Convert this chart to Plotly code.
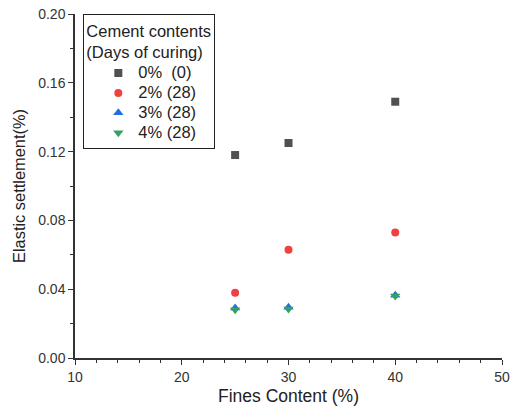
import plotly.graph_objects as go

fines = [25, 30, 40]
names = ["0%  (0)", "2% (28)", "3% (28)", "4% (28)"]
s0 = [0.118, 0.125, 0.149]
s2 = [0.038, 0.063, 0.073]
s3 = [0.029, 0.0295, 0.0365]
s4 = [0.028, 0.0285, 0.036]
series = [s0, s2, s3, s4]
colors = ["#505050", "#f04040", "#1f6ee8", "#36a064"]
symbols = ["square", "circle", "triangle-up", "triangle-down"]
sizes = [8, 8, 9, 9]

fig = go.Figure()
for n, s, c, sym, sz in zip(names, series, colors, symbols, sizes):
    fig.add_trace(go.Scatter(x=fines, y=s, mode="markers",
                             name="<span style='font-size:16.5px'>" + n + "</span>",
                             marker=dict(color=c, symbol=sym, size=sz, line=dict(width=0))))

def axis_common():
    return dict(showline=True, linecolor="#333", linewidth=1.5, ticks="outside",
                ticklen=5, tickcolor="#333", tickwidth=1.2, showgrid=False, zeroline=False,
                automargin=False,
                tickfont=dict(family="Arial, Liberation Sans", size=14, color="#333"))

fig.update_layout(
    width=511, height=411,
    margin=dict(l=75, r=9, t=14, b=53),
    plot_bgcolor="white", paper_bgcolor="white",
    font=dict(family="Arial, Liberation Sans", color="#222"),
    xaxis=dict(range=[10, 50], dtick=10,
               title=dict(text="Fines Content (%)", font=dict(size=17.5), standoff=6),
               minor=dict(ticks="outside", ticklen=3, tickcolor="#333", dtick=2),
               **axis_common()),
    yaxis=dict(range=[0, 0.2], dtick=0.04, tickformat=".2f",
               title=dict(text="Elastic settlement(%)", font=dict(size=16.4), standoff=8),
               minor=dict(ticks="outside", ticklen=3, tickcolor="#333", dtick=0.02),
               **axis_common()),
    legend=dict(x=0.019, y=1.0, xanchor="left", yanchor="top",
                bordercolor="#222", borderwidth=1.2, bgcolor="white",
                font=dict(size=13, color="#222"),
                title=dict(text="Cement contents<br>(Days of curing)", font=dict(size=16.5)),
                indentation=14, tracegroupgap=0, itemwidth=30),
)

fig.write_html("out.html", config={"displayModeBar": False},
               post_script="document.body.style.margin='0';document.body.style.overflow='hidden';")
